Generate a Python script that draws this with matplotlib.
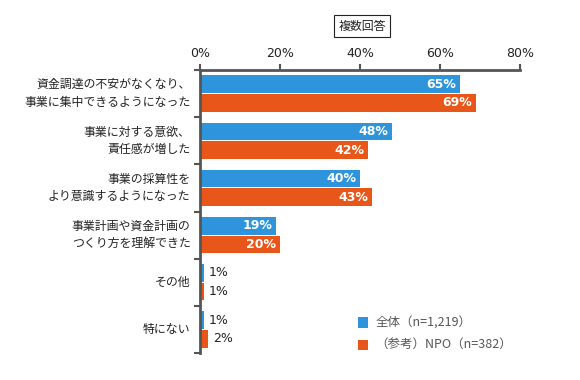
import matplotlib.pyplot as plt
import numpy as np

plt.rcParams['font.family'] = ['Noto Sans CJK JP', 'DejaVu Sans']

# データ
categories = [
    "資金調達の不安がなくなり、\n事業に集中できるようになった",
    "事業に対する意欲、\n責任感が増した",
    "事業の採算性を\nより意識するようになった",
    "事業計画や資金計画の\nつくり方を理解できた",
    "その他",
    "特にない",
]
all_vals = [65, 48, 40, 19, 1, 1]
npo_vals = [69, 42, 43, 20, 1, 2]
series_names = ["全体（n=1,219）", "（参考）NPO（n=382）"]
ticks = [0, 20, 40, 60, 80]

blue = "#2e95dc"
orange = "#e8561a"
axis_col = "#555555"

fig = plt.figure(figsize=(5.8, 3.8), dpi=100)
ax = fig.add_axes([200 / 580, 1 - 353 / 380, 320 / 580, 283 / 380])

n = len(categories)
y = np.arange(n)
h = 0.375
b1 = ax.barh(y - h / 2 - 0.01, all_vals, height=h, color=blue)
b2 = ax.barh(y + h / 2 + 0.01, npo_vals, height=h, color=orange)

for bars, vals in [(b1, all_vals), (b2, npo_vals)]:
    for bar, v in zip(bars, vals):
        yc = bar.get_y() + bar.get_height() / 2
        if v >= 10:
            ax.text(v - 1.0, yc, f"{v}%", ha="right", va="center",
                    color="white", fontsize=9, fontweight="semibold",
                    family=["DejaVu Sans"])
        else:
            ax.text(v + 1.2, yc, f"{v}%", ha="left", va="center",
                    color="#222222", fontsize=9, family=["DejaVu Sans"])

ax.set_xlim(0, 80)
ax.set_ylim(n - 0.5, -0.5)
ax.xaxis.tick_top()
ax.set_xticks(ticks)
ax.set_xticklabels([f"{t}%" for t in ticks], fontsize=9, color="#222222",
                   family=["DejaVu Sans"])
ax.tick_params(axis="x", length=4, width=1.5, color=axis_col, pad=3)

# 縦軸: カテゴリ境界に目盛り、ラベルは中央
ax.set_yticks(np.arange(n + 1) - 0.5)
ax.set_yticklabels([])
ax.tick_params(axis="y", length=4, width=1.5, color=axis_col)
for i, c in enumerate(categories):
    ax.text(-0.03, i, c, transform=ax.get_yaxis_transform(), ha="right",
            va="center", fontsize=8.6, color="#222222", linespacing=1.45,
            multialignment="right")

for s in ["right", "bottom"]:
    ax.spines[s].set_visible(False)
for s in ["top", "left"]:
    ax.spines[s].set_color(axis_col)
    ax.spines[s].set_linewidth(2)

fig.text(362 / 580, 1 - 26 / 380, "複数回答", ha="center", va="center",
         fontsize=8.6, color="#222222",
         bbox=dict(boxstyle="square,pad=0.35", fc="white", ec="#222222", lw=0.8))

leg = ax.legend([b1, b2], series_names, loc="lower left",
                bbox_to_anchor=(358 / 580, 28 / 380), bbox_transform=fig.transFigure,
                frameon=False, fontsize=9, handlelength=0.8, handleheight=0.9,
                handletextpad=0.6, labelspacing=0.75, borderaxespad=0,
                borderpad=0)
for t in leg.get_texts():
    t.set_color("#555555")

fig.savefig("out.png", dpi=100)
